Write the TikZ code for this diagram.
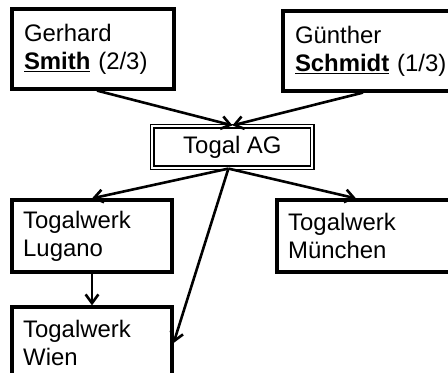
\documentclass[tikz,border=0pt]{standalone}
\usepackage{fontspec}
\setmainfont{Liberation Sans}
\usetikzlibrary{arrows.meta}

\begin{document}
\begin{tikzpicture}[
    box/.style={draw, line width=0.08cm, rectangle, inner xsep=0.28cm, inner ysep=0cm,
                align=left, font=\fontsize{17}{19.9}\selectfont},
    link/.style={-{Straight Barb[length=0.22cm,width=0.32cm]}, line width=0.065cm}
]
    \useasboundingbox (0,0) rectangle (11.2,9.325);

    \node[box, minimum width=4.05cm, minimum height=2cm, text width=3.45cm,
          inner xsep=0.3cm]                         (gerhard)  at (2.325,8.1) {Gerhard\\\underline{\textbf{Smith}} (2/3)};
    \node[box, minimum width=4.6cm, minimum height=2cm, text width=4.0cm,
          inner xsep=0.3cm]                         (guenther) at (9.375,8.05) {Günther\\\underline{\textbf{Schmidt}} (1/3)};

    \node[box, line width=0.04cm, double, double distance=0.05cm,
          minimum width=4.0cm, minimum height=1.04cm, align=center] (togal) at (5.81,5.65) {Togal AG};

    \node[box, minimum width=4.0cm, minimum height=1.8cm, text width=3.44cm] (lugano)   at (2.3,3.425) {Togalwerk\\Lugano};
    \node[box, minimum width=4.45cm, minimum height=1.8cm, text width=3.89cm] (muenchen) at (9.15,3.425) {Togalwerk\\München};
    \node[box, minimum width=4.0cm, minimum height=1.8cm, text width=3.44cm] (wien)     at (2.3,0.75) {Togalwerk\\Wien};

    \draw[link] ([xshift=0.1cm]gerhard.south) -- (togal.north);
    \draw[link] ([xshift=-0.3cm]guenther.south) -- (togal.north);

    \draw[link] ([xshift=-0.1cm]togal.south) -- (lugano.north);
    \draw[link] ([xshift=-0.1cm]togal.south) -- ([xshift=-0.25cm]muenchen.north);
    \draw[link] ([xshift=-0.1cm]togal.south) -- (wien.east);
    \draw[link] (lugano.south) -- (wien.north);

\end{tikzpicture}
\end{document}
